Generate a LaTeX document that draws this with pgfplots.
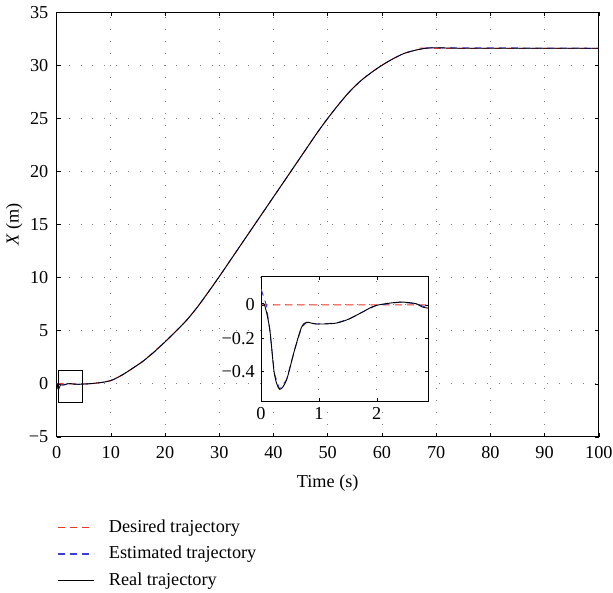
\documentclass[border=0pt]{standalone}
\usepackage{pgfplots}
\pgfplotsset{compat=1.18}
\usepackage{fontspec}
\setmainfont{Liberation Serif}

\definecolor{desred}{RGB}{235,55,35}
\definecolor{estblue}{RGB}{60,60,215}

% real trajectory (m)
\pgfplotstableread{
t x
0 0.0
0.06 0.0
0.15 -0.145
0.23 -0.41
0.32 -0.505
0.44 -0.45
0.58 -0.27
0.70 -0.135
0.79 -0.105
0.96 -0.115
1.29 -0.11
1.52 -0.085
1.75 -0.044
1.99 -0.004
2.40 0.016
2.69 0.006
2.89 -0.02
4 -0.05
6 0.0
8 0.1
10 0.3
12 0.8
14 1.45
16 2.15
18 3.0
20 3.95
22 4.95
24 6.0
26 7.25
28 8.65
30 10.1
32 11.6
34 13.1
36 14.6
38 16.1
40 17.6
42 19.1
44 20.6
46 22.1
48 23.6
50 25.0
52 26.3
54 27.5
56 28.5
58 29.3
60 30.0
62 30.6
64 31.1
66 31.4
68 31.6
70 31.65
75 31.6
80 31.6
85 31.6
90 31.6
95 31.6
100 31.6
}\real

% desired trajectory (m)
\pgfplotstableread{
t x
0 0
3 0
4 -0.02
6 0.0
8 0.12
10 0.32
12 0.8
14 1.45
16 2.15
18 3.05
20 3.95
22 4.95
24 6.0
26 7.25
28 8.65
30 10.1
32 11.6
34 13.1
36 14.6
38 16.1
40 17.6
42 19.1
44 20.6
46 22.1
48 23.6
50 25.0
52 26.3
54 27.5
56 28.5
58 29.3
60 30.0
62 30.6
64 31.1
66 31.4
68 31.6
70 31.6
100 31.6
}\desired

% estimated trajectory (m)
\pgfplotstableread{
t x
0 0.095
0.09 0.0
0.15 -0.145
0.23 -0.41
0.32 -0.505
0.44 -0.45
0.58 -0.27
0.70 -0.135
0.79 -0.105
0.96 -0.115
1.29 -0.11
1.52 -0.085
1.75 -0.044
1.99 -0.004
2.40 0.016
2.69 0.006
2.89 -0.02
4 -0.05
6 0.0
8 0.1
10 0.3
12 0.8
14 1.45
16 2.15
18 3.0
20 3.95
22 4.95
24 6.0
26 7.25
28 8.65
30 10.1
32 11.6
34 13.1
36 14.6
38 16.1
40 17.6
42 19.1
44 20.6
46 22.1
48 23.6
50 25.0
52 26.3
54 27.5
56 28.5
58 29.3
60 30.0
62 30.6
64 31.1
66 31.4
68 31.6
70 31.65
100 31.6
}\estimated

\pgfplotsset{
  myaxis/.style={
    scale only axis,
    tick align=inside,
    major tick length=4pt,
    tick style={black, line width=0.5pt},
    axis line style={line width=0.7pt},
    grid=major,
    major grid style={gray, line width=0.8pt, dash pattern=on 0.8pt off 11pt},
    /pgf/number format/assume math mode=true,
  },
}

\begin{document}
\fontsize{18}{21}\selectfont
\begin{tikzpicture}
\begin{axis}[
  myaxis,
  width=535pt, height=419pt,
  xmin=0, xmax=100, ymin=-5, ymax=35,
  xtick={0,10,...,100},
  ytick={-5,0,...,35},
  yticklabels={−5,0,5,10,15,20,25,30,35},
  xticklabel style={inner xsep=0.5pt, yshift=-3pt},
  yticklabel style={xshift=-2pt},
  xlabel={Time (s)},
  ylabel={\textit{X} (m)},
  xlabel style={yshift=-4pt},
  ylabel style={yshift=-6pt},
  legend style={draw=none, at={(0,-0.185)}, anchor=north west,
    font=\fontsize{18}{21}\selectfont, row sep=7pt, inner xsep=0pt,
    cells={anchor=west},
    /tikz/every odd column/.append style={column sep=12pt}},
  legend image code/.code={\draw[#1] (0pt,0pt) -- (36pt,0pt);},
  legend cell align=left,
]
\addlegendimage{draw=desred, line width=1.4pt, dash pattern=on 7pt off 5pt}
\addlegendentry{Desired trajectory}
\addlegendimage{draw=estblue, line width=1.4pt, dash pattern=on 7pt off 5pt}
\addlegendentry{Estimated trajectory}
\addlegendimage{draw=black, line width=1.2pt}
\addlegendentry{Real trajectory}
\addplot[desred, line width=1pt, dash pattern=on 7pt off 5pt, smooth, forget plot] table[x=t, y=x] {\desired};
\addplot[estblue, line width=1pt, dash pattern=on 7pt off 5pt, smooth, forget plot] table[x=t, y=x] {\estimated};
\addplot[black, line width=0.8pt, smooth, forget plot] table[x=t, y=x] {\real};
\draw[black, line width=0.7pt] (axis cs:0.4,-1.75) rectangle (axis cs:4.8,1.3);
\coordinate (insetpos) at (axis cs:37.7,-1.66);
\end{axis}
\begin{axis}[
  myaxis,
  at={(insetpos)}, anchor=south west,
  width=165pt, height=123pt,
  xmin=0, xmax=2.89, ymin=-0.578, ymax=0.168,
  xtick={0,1,2},
  ytick={-0.4,-0.2,0},
  yticklabels={−0.4,−0.2,0},
  axis background/.style={fill=white},
  major tick length=3pt,
]
\addplot[desred, line width=1pt, dash pattern=on 7pt off 5pt] table[x=t, y=x] {\desired};
\addplot[estblue, line width=0.9pt, dash pattern=on 7pt off 5pt] table[x=t, y=x] {\estimated};
\addplot[black, line width=0.9pt, smooth] table[x=t, y=x] {\real};
\end{axis}
\end{tikzpicture}
\end{document}
